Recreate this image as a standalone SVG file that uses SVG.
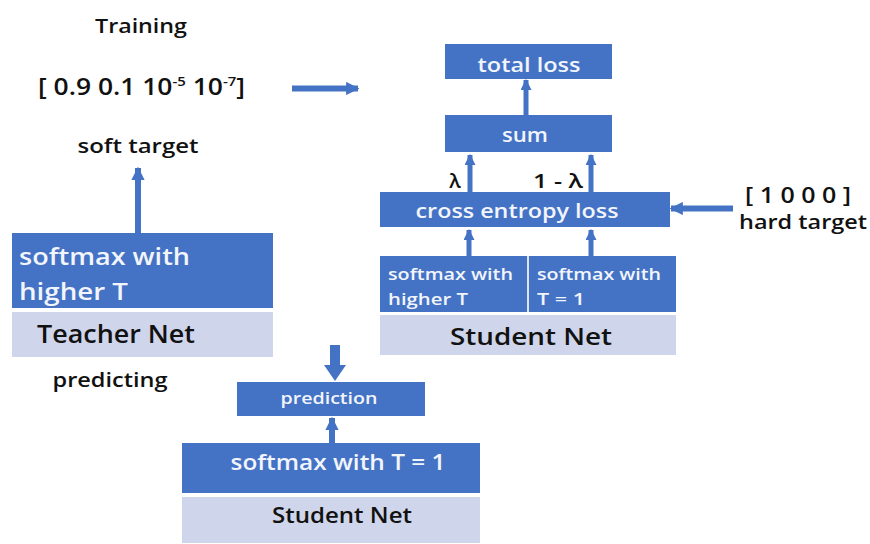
<svg xmlns="http://www.w3.org/2000/svg" width="870" height="544" viewBox="0 0 870 544">
<style>
.blue{fill:#4472C4}
.light{fill:#CFD5EA}
.lbl{font-family:"Open Sans","Liberation Sans",sans-serif;font-weight:600;fill:#111}
.wt{font-family:"Open Sans","Liberation Sans",sans-serif;font-weight:600;fill:#F2F5FC}
.bk{font-family:"Open Sans","Liberation Sans",sans-serif;font-weight:600;fill:#111}
.arr{stroke:#4472C4;fill:none}
</style>
<defs>
<marker id="ah" viewBox="0 0 10 10" refX="9" refY="5" markerWidth="2.2" markerHeight="2.2" orient="auto" markerUnits="strokeWidth">
<path d="M0,0 L10,5 L0,10 z" fill="#4472C4"/>
</marker>
</defs>
<g id="labels">
<text class="lbl" x="141" y="33" font-size="20" text-anchor="middle" textLength="92" lengthAdjust="spacingAndGlyphs">Training</text>
<text class="bk" font-size="23" font-weight="500" transform="translate(38,95) scale(1.15,1)">[ 0.9 0.1 10<tspan dy="-9" font-size="13">-5</tspan><tspan dy="9"> 10</tspan><tspan dy="-9" font-size="13">-7</tspan><tspan dy="9">]</tspan></text>
<text class="lbl" x="138" y="153" font-size="20" text-anchor="middle" textLength="121" lengthAdjust="spacingAndGlyphs">soft target</text>
<text class="lbl" x="110" y="387" font-size="20" text-anchor="middle" textLength="115" lengthAdjust="spacingAndGlyphs">predicting</text>
<text class="bk" x="798" y="203" font-size="22" font-weight="500" text-anchor="middle" textLength="106" lengthAdjust="spacingAndGlyphs">[ 1 0 0 0 ]</text>
<text class="lbl" x="803" y="229" font-size="20" text-anchor="middle" textLength="128" lengthAdjust="spacingAndGlyphs">hard target</text>
<text class="lbl" x="455" y="188" font-size="20" text-anchor="middle">λ</text>
<text class="lbl" x="558" y="188" font-size="20" text-anchor="middle" textLength="50" lengthAdjust="spacingAndGlyphs">1 - λ</text>
</g>
<g id="teacher">
<rect class="blue" x="12" y="233" width="261" height="75"/>
<rect class="light" x="12" y="312" width="261" height="45"/>
<text class="wt" x="19" y="265" font-size="24" textLength="171" lengthAdjust="spacingAndGlyphs">softmax with</text>
<text class="wt" x="19" y="300" font-size="24" textLength="109" lengthAdjust="spacingAndGlyphs">higher T</text>
<text class="bk" x="37" y="343" font-size="26" textLength="158" lengthAdjust="spacingAndGlyphs">Teacher Net</text>
</g>
<g id="total-loss">
<rect class="blue" x="445" y="44" width="167" height="35"/>
<text class="wt" x="529" y="72" font-size="20" text-anchor="middle" textLength="103" lengthAdjust="spacingAndGlyphs">total loss</text>
</g>
<g id="sum">
<rect class="blue" x="445" y="115" width="167" height="37"/>
<text class="wt" x="525" y="142" font-size="20" text-anchor="middle" textLength="46" lengthAdjust="spacingAndGlyphs">sum</text>
</g>
<g id="cross-entropy">
<rect class="blue" x="380" y="192" width="290" height="35"/>
<text class="wt" x="517" y="218" font-size="20" text-anchor="middle" textLength="203" lengthAdjust="spacingAndGlyphs">cross entropy loss</text>
</g>
<g id="student-train">
<rect class="blue" x="380" y="256" width="296" height="56"/>
<rect x="527" y="256" width="2" height="56" fill="#DCE3F3"/>
<rect class="light" x="380" y="315" width="296" height="40"/>
<text class="wt" x="388" y="280" font-size="17" textLength="125" lengthAdjust="spacingAndGlyphs">softmax with</text>
<text class="wt" x="388" y="305" font-size="17" textLength="80" lengthAdjust="spacingAndGlyphs">higher T</text>
<text class="wt" x="537" y="280" font-size="17" textLength="124" lengthAdjust="spacingAndGlyphs">softmax with</text>
<text class="wt" x="537" y="305" font-size="17" textLength="48" lengthAdjust="spacingAndGlyphs">T = 1</text>
<text class="bk" x="531" y="345" font-size="24" text-anchor="middle" textLength="162" lengthAdjust="spacingAndGlyphs">Student Net</text>
</g>
<g id="prediction">
<rect class="blue" x="237" y="382" width="188" height="34"/>
<text class="wt" x="329" y="404" font-size="16" text-anchor="middle" textLength="97" lengthAdjust="spacingAndGlyphs">prediction</text>
</g>
<g id="student-predict">
<rect class="blue" x="182" y="443" width="298" height="50"/>
<rect class="light" x="182" y="497" width="298" height="46"/>
<text class="wt" x="338" y="470" font-size="21" text-anchor="middle" textLength="215" lengthAdjust="spacingAndGlyphs">softmax with T = 1</text>
<text class="bk" x="342" y="523" font-size="21" text-anchor="middle" textLength="140" lengthAdjust="spacingAndGlyphs">Student Net</text>
</g>
<g id="connectors">
<line class="arr" x1="138" y1="233" x2="138" y2="168" stroke-width="6" marker-end="url(#ah)"/>
<line class="arr" x1="292" y1="88.5" x2="358" y2="88.5" stroke-width="6" marker-end="url(#ah)"/>
<line class="arr" x1="526" y1="115" x2="526" y2="80" stroke-width="5" marker-end="url(#ah)"/>
<line class="arr" x1="470" y1="192" x2="470" y2="155" stroke-width="5" marker-end="url(#ah)"/>
<line class="arr" x1="591" y1="192" x2="591" y2="155" stroke-width="5" marker-end="url(#ah)"/>
<line class="arr" x1="469" y1="256" x2="469" y2="230" stroke-width="5" marker-end="url(#ah)"/>
<line class="arr" x1="591" y1="256" x2="591" y2="230" stroke-width="5" marker-end="url(#ah)"/>
<line class="arr" x1="733" y1="208.5" x2="671" y2="208.5" stroke-width="6" marker-end="url(#ah)"/>
<line class="arr" x1="332" y1="443" x2="332" y2="418" stroke-width="6" marker-end="url(#ah)"/>
<path d="M330,345 L340,345 L340,365 L346,365 L335,381 L324,365 L330,365 z" fill="#4472C4"/>
</g>
</svg>
